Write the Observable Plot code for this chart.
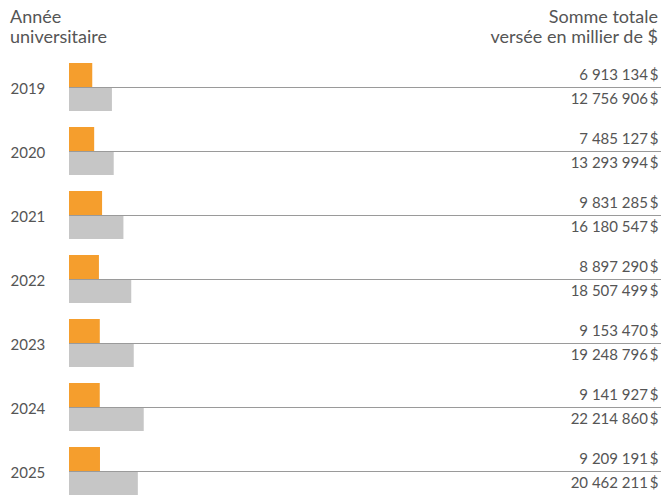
<!DOCTYPE html>
<html><head><meta charset="utf-8">
<script src="https://cdn.jsdelivr.net/npm/d3@7"></script>
<script src="https://cdn.jsdelivr.net/npm/@observablehq/plot@0.6"></script>
<style>
body{margin:0;background:#fff;font-family:Lato,"Open Sans",sans-serif;color:#555;}
#wrap{width:661px;position:relative;}
#head{height:55px;position:relative;font-size:18px;line-height:20px;font-weight:400;}
#hl{position:absolute;left:10px;top:6px;}
#hr{position:absolute;right:3px;top:6px;text-align:right;}
</style></head>
<body><div id="wrap">
<div id="head"><div id="hl">Année<br>universitaire</div><div id="hr">Somme totale<br>versée en millier de $</div></div>
<div id="chart"></div></div>
<script>
const years = ["2019","2020","2021","2022","2023","2024","2025"];
const orangeValues = [6913134, 7485127, 9831285, 8897290, 9153470, 9141927, 9209191];
const grayValues = [12756906, 13293994, 16180547, 18507499, 19248796, 22214860, 20462211];

const fmt = d3.formatLocale({decimal:",", thousands:"\u00a0", grouping:[3], currency:["","\u2009$"]}).format("$,d");
const orange = years.map((y,i)=>({year:y, value:orangeValues[i]}));
const gray = years.map((y,i)=>({year:y, value:grayValues[i]}));

const plot = Plot.plot({
  width: 661, height: 440,
  marginLeft: 69, marginRight: 0, marginTop: 8, marginBottom: 0,
  x: {domain:[0,176e6], axis:null},
  y: {domain: years, paddingInner:0.25, paddingOuter:0, axis:null},
  style: {fontFamily:"Lato, 'Open Sans', sans-serif", color:"#555"},
  marks: [
    Plot.barX(orange, {x:"value", y:"year", fill:"#F59E2D", insetBottom:24}),
    Plot.barX(gray, {x:"value", y:"year", fill:"#C6C6C6", insetTop:24}),
    Plot.ruleY(years, {y: d=>d, stroke:"#9a9a9a", strokeWidth:1}),
    Plot.text(years, {y: d=>d, text: d=>d, frameAnchor:"left", dx:-59, textAnchor:"start", fontSize:15, fill:"#555", dy:2}),
    Plot.text(orange, {y:"year", text: d=>fmt(d.value), frameAnchor:"right", dx:-3, dy:-12, textAnchor:"end", fontSize:15, fill:"#555"}),
    Plot.text(gray, {y:"year", text: d=>fmt(d.value), frameAnchor:"right", dx:-3, dy:12, textAnchor:"end", fontSize:15, fill:"#555"})
  ]
});
document.getElementById("chart").appendChild(plot);
</script></body></html>
